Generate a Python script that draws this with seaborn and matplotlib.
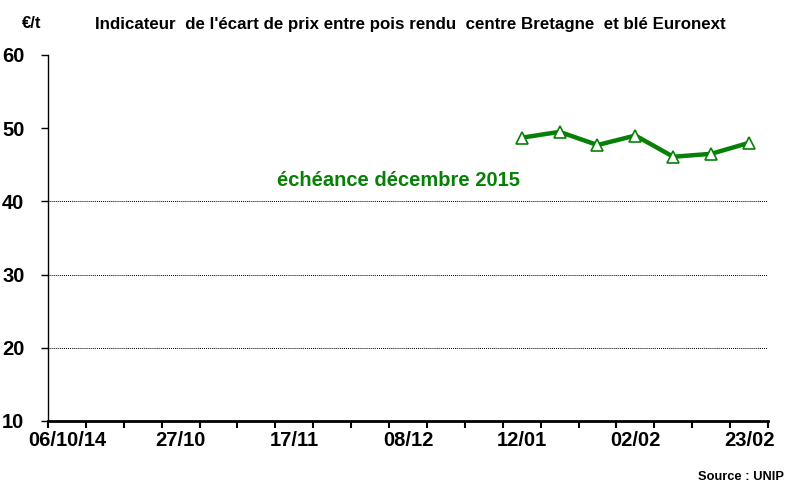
import numpy as np
import pandas as pd
import matplotlib
matplotlib.use("Agg")
import matplotlib.pyplot as plt
import seaborn as sns

# Weekly categories (19 weeks); labels shown every third week
week_labels = ["06/10/14", "", "", "27/10", "", "", "17/11", "", "", "08/12",
               "", "", "12/01", "", "", "02/02", "", "", "23/02"]
# Data only for the last 7 weeks (12/01 .. 23/02)
point_weeks = [12, 13, 14, 15, 16, 17, 18]
values = [48.7, 49.5, 47.7, 49.0, 46.1, 46.5, 48.0]
y_ticks = [10, 20, 30, 40, 50, 60]
grid_levels = [20, 30, 40]

sns.set_theme(style="white")
plt.rcParams['font.family'] = ['Liberation Sans', 'DejaVu Sans']
plt.rcParams['text.color'] = 'black'
plt.rcParams['xtick.color'] = 'black'
plt.rcParams['ytick.color'] = 'black'

fig = plt.figure(figsize=(7.87, 4.82), dpi=100)
ax = fig.add_axes([48/787, 1-421/482, (768-48)/787, (421-55)/482])

df = pd.DataFrame({"week": point_weeks, "value": values})
green = "#078007"
sns.lineplot(data=df, x="week", y="value", ax=ax, color=green, linewidth=3.2,
             marker="^", markersize=8, markerfacecolor="white",
             markeredgecolor=green, markeredgewidth=1.2)

for g in grid_levels:
    ax.axhline(g, color="black", linestyle=(0, (1, 1)), linewidth=0.7, zorder=0)

n = len(week_labels)
ax.set_xlim(-0.5, n - 0.5)
ax.set_ylim(10, 60)
ax.set_yticks(y_ticks)
ax.set_yticklabels([str(t) for t in y_ticks], fontsize=14.5, fontweight="bold")

# Ticks at category boundaries, labels at category centres
ax.set_xticks(np.arange(n + 1) - 0.5)
ax.set_xticklabels([])
label_pos = [i for i, l in enumerate(week_labels) if l]
ax.set_xticks(label_pos, minor=True)
ax.set_xticklabels([week_labels[i] for i in label_pos], minor=True,
                   fontsize=14.5, fontweight="bold")
ax.tick_params(axis="x", which="major", direction="out", length=5, width=1.5,
               color="black", bottom=True)
ax.tick_params(axis="x", which="minor", length=0, pad=7, bottom=True)
ax.tick_params(axis="y", direction="out", length=5, width=1, color="black",
               left=True, pad=12)

ax.set_xlabel("")
ax.set_ylabel("")
for s in ["top", "right"]:
    ax.spines[s].set_visible(False)
ax.spines["left"].set_color("black")
ax.spines["left"].set_linewidth(1)
ax.spines["bottom"].set_color("black")
ax.spines["bottom"].set_linewidth(2)

fig.text(22/787, 1-24/482, "€/t", fontsize=12, fontweight="bold", va="center", ha="left")
fig.text(410/787, 1-25/482,
         "Indicateur  de l'écart de prix entre pois rendu  centre Bretagne  et blé Euronext",
         fontsize=12.2, fontweight="bold", ha="center", va="center")
ax.text(8.75, 42.8, "échéance décembre 2015", color=green, fontsize=14.5,
        fontweight="bold", ha="center", va="center",
        family=["Liberation Sans Narrow", "Liberation Sans", "DejaVu Sans"])
fig.text(784/787, 1-477/482, "Source : UNIP", fontsize=9.3, fontweight="bold",
         ha="right", va="center")

fig.savefig("out.png", dpi=100)
